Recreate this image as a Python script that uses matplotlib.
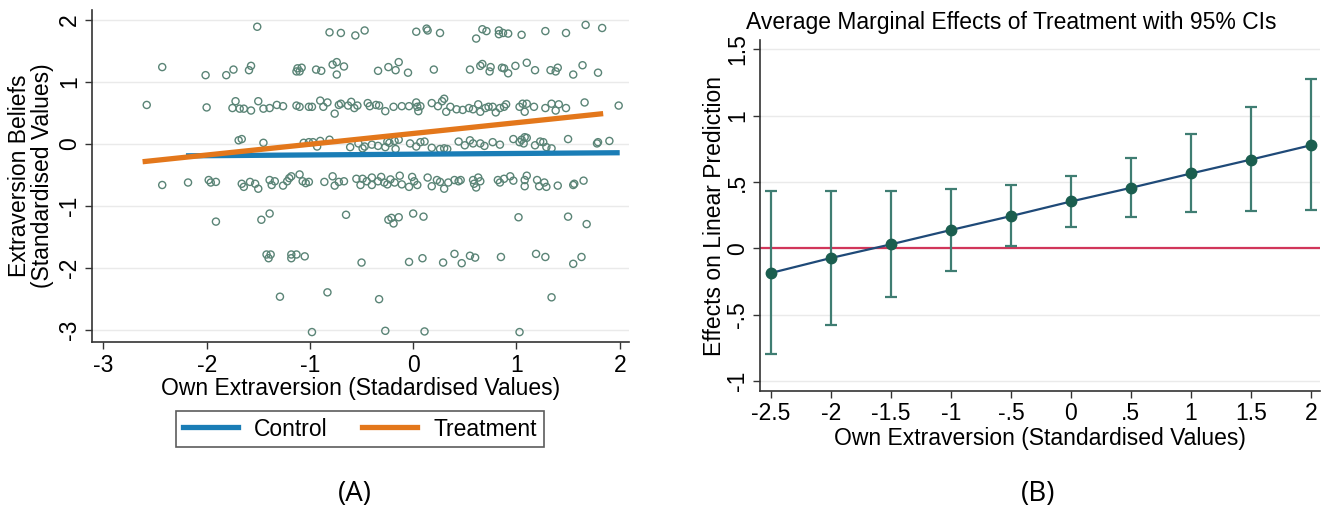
import matplotlib
matplotlib.use("Agg")
import matplotlib.pyplot as plt
from matplotlib.lines import Line2D

plt.rcParams['font.family'] = ['Liberation Sans', 'DejaVu Sans']

# ---------------- Panel A data ----------------
row_18_x = [-1.51, -0.81, -0.70, -0.56, -0.47, 0.03, 0.13, 0.14, 0.26, 0.61, 0.67, 0.71,
            0.83, 0.83, 0.87, 0.92, 1.05, 1.28, 1.48, 1.67, 1.83]
row_18_y = [1.89, 1.80, 1.79, 1.75, 1.83, 1.81, 1.86, 1.83, 1.79, 1.70, 1.85, 1.82,
            1.83, 1.77, 1.79, 1.78, 1.76, 1.82, 1.79, 1.92, 1.87]
row_12_x = [-2.43, -2.01, -1.81, -1.74, -1.59, -1.57, -1.13, -1.12, -1.10, -1.08, -0.94, -0.89,
            -0.78, -0.74, -0.74, -0.67, -0.34, -0.24, -0.17, -0.14, -0.05, 0.20, 0.55, 0.65,
            0.67, 0.74, 0.75, 0.86, 0.88, 0.92, 0.99, 1.10, 1.18, 1.33, 1.38, 1.40, 1.55,
            1.64, 1.79]
row_12_y = [1.24, 1.11, 1.11, 1.20, 1.19, 1.26, 1.17, 1.22, 1.17, 1.23, 1.20, 1.18,
            1.28, 1.32, 1.12, 1.25, 1.18, 1.24, 1.19, 1.32, 1.15, 1.20, 1.20, 1.26,
            1.29, 1.17, 1.24, 1.23, 1.22, 1.14, 1.26, 1.31, 1.19, 1.19, 1.17, 1.23, 1.12,
            1.27, 1.15]
row_06_x = [-2.58, -2.00, -1.75, -1.72, -1.68, -1.64, -1.57, -1.50, -1.45, -1.39, -1.32, -1.26,
            -1.13, -1.10, -1.01, -0.98, -0.90, -0.87, -0.83, -0.76, -0.72, -0.70,
            -0.63, -0.60, -0.57, -0.54, -0.44, -0.42, -0.36, -0.33, -0.27,
            -0.19, -0.11, -0.04, 0.03, 0.04, 0.05, 0.07,
            0.18, 0.24, 0.28, 0.30, 0.32, 0.36, 0.42,
            0.48, 0.54, 0.58, 0.63, 0.65, 0.70, 0.73, 0.77, 0.80, 0.84, 0.88, 0.90,
            1.03, 1.06, 1.10, 1.08, 1.17, 1.28, 1.34, 1.38, 1.41, 1.48, 1.66, 1.99]
row_06_y = [0.63, 0.59, 0.58, 0.69, 0.57, 0.57, 0.54, 0.69, 0.57, 0.58, 0.63, 0.61,
            0.62, 0.60, 0.60, 0.60, 0.70, 0.60, 0.67, 0.49, 0.63, 0.65,
            0.62, 0.68, 0.58, 0.62, 0.66, 0.61, 0.63, 0.62, 0.53,
            0.60, 0.61, 0.61, 0.67, 0.60, 0.53, 0.61,
            0.66, 0.61, 0.69, 0.73, 0.52, 0.60, 0.56,
            0.55, 0.58, 0.56, 0.64, 0.52, 0.58, 0.60, 0.60, 0.51, 0.58, 0.60, 0.64,
            0.60, 0.65, 0.65, 0.52, 0.60, 0.58, 0.65, 0.54, 0.64, 0.58, 0.67, 0.62]
row_00_x = [-1.69, -1.66, -1.45, -1.06, -1.01, -0.97, -0.90, -0.81, -0.93,
            -0.61, -0.53, -0.49, -0.47, -0.40, -0.34, -0.27, -0.25, -0.23, -0.18, -0.17, -0.14,
            -0.03, 0.03, 0.07, 0.11, 0.18, 0.26, 0.30, 0.33,
            0.44, 0.50, 0.55, 0.58, 0.65, 0.69, 0.77, 0.84,
            0.97, 1.03, 1.05, 1.08, 1.10, 1.07, 1.18, 1.23, 1.26, 1.29, 1.34,
            1.50, 1.78, 1.79, 1.90]
row_00_y = [0.06, 0.08, 0.02, 0.02, 0.03, 0.03, 0.05, 0.07, -0.04,
            -0.05, 0.01, -0.07, -0.04, -0.01, -0.03, -0.05, 0.04, 0.02, 0.05, -0.08, 0.07,
            0.01, -0.04, 0.03, 0.04, -0.06, -0.08, -0.07, -0.08,
            0.04, -0.02, 0.06, 0.01, 0.01, -0.03, 0.03, -0.01,
            0.08, 0.03, 0.07, 0.11, 0.10, 0.01, -0.02, 0.04, 0.03, -0.05, -0.07,
            0.08, 0.01, 0.03, 0.05]
row_m06_x = [-2.43, -2.18, -1.98, -1.96, -1.91,
             -1.66, -1.64, -1.58, -1.53, -1.50,
             -1.39, -1.37, -1.34, -1.26, -1.22, -1.20, -1.18,
             -1.10, -1.07, -1.04, -1.01, -0.86, -0.78, -0.76, -0.72, -0.67,
             -0.55, -0.51, -0.49, -0.45, -0.40, -0.40, -0.34, -0.31, -0.28, -0.25, -0.22, -0.18,
             -0.13, -0.11, -0.04, -0.01, 0.01, 0.04,
             0.14, 0.18, 0.23, 0.26, 0.30, 0.34, 0.40, 0.44, 0.46,
             0.58, 0.59, 0.61, 0.63, 0.65, 0.82, 0.84, 0.88, 0.94, 0.97,
             1.08, 1.10, 1.08, 1.20, 1.22, 1.27, 1.29, 1.40, 1.55, 1.56, 1.65]
row_m06_y = [-0.66, -0.62, -0.58, -0.62, -0.61,
             -0.64, -0.69, -0.61, -0.64, -0.72,
             -0.58, -0.66, -0.60, -0.67, -0.60, -0.55, -0.52,
             -0.49, -0.60, -0.63, -0.61, -0.61, -0.52, -0.67, -0.61, -0.60,
             -0.56, -0.66, -0.56, -0.60, -0.54, -0.66, -0.60, -0.53, -0.62, -0.65, -0.57, -0.62,
             -0.51, -0.65, -0.69, -0.53, -0.60, -0.66,
             -0.54, -0.68, -0.58, -0.61, -0.72, -0.62, -0.58, -0.60, -0.58,
             -0.58, -0.64, -0.70, -0.54, -0.60, -0.58, -0.62, -0.56, -0.52, -0.59,
             -0.58, -0.51, -0.68, -0.58, -0.68, -0.62, -0.69, -0.67, -0.66, -0.64, -0.59]
row_m12_x = [-1.91, -1.47, -1.39, -0.65, -0.24, -0.21, -0.19, -0.14, 0.00, 0.10, 1.02, 1.50, 1.68]
row_m12_y = [-1.25, -1.22, -1.12, -1.14, -1.22, -1.19, -1.28, -1.18, -1.12, -1.17, -1.18, -1.17, -1.29]
row_m18_x = [-1.42, -1.40, -1.38, -1.18, -1.18, -1.13, -1.05, -0.50, -0.04, 0.09, 0.29, 0.40,
             0.47, 0.55, 0.60, 0.85, 1.19, 1.28, 1.55, 1.63]
row_m18_y = [-1.78, -1.84, -1.78, -1.78, -1.84, -1.78, -1.81, -1.91, -1.90, -1.84, -1.91, -1.77,
             -1.92, -1.80, -1.83, -1.82, -1.77, -1.82, -1.93, -1.82]
row_m24_x = [-1.29, -0.83, -0.33, 1.34]
row_m24_y = [-2.46, -2.39, -2.50, -2.47]
row_m30_x = [-0.98, -0.27, 0.11, 1.03]
row_m30_y = [-3.03, -3.01, -3.02, -3.03]

own_extraversion = (row_18_x + row_12_x + row_06_x + row_00_x + row_m06_x
                    + row_m12_x + row_m18_x + row_m24_x + row_m30_x)
extraversion_beliefs = (row_18_y + row_12_y + row_06_y + row_00_y + row_m06_y
                        + row_m12_y + row_m18_y + row_m24_y + row_m30_y)

control_fit_x = [-2.2, 2.0]
control_fit_y = [-0.19, -0.14]
treatment_fit_x = [-2.62, 1.84]
treatment_fit_y = [-0.285, 0.49]

# ---------------- Panel B data ----------------
me_x = [-2.5, -2.0, -1.5, -1.0, -0.5, 0.0, 0.5, 1.0, 1.5, 2.0]
me_y = [-0.186, -0.073, 0.030, 0.138, 0.243, 0.353, 0.456, 0.564, 0.669, 0.777]
ci_hi = [0.431, 0.429, 0.431, 0.444, 0.474, 0.544, 0.682, 0.862, 1.063, 1.273]
ci_lo = [-0.797, -0.579, -0.368, -0.168, 0.015, 0.158, 0.236, 0.271, 0.281, 0.286]

xticks_a = [-3, -2, -1, 0, 1, 2]
yticks_a = [-3, -2, -1, 0, 1, 2]
xticks_b = [-2.5, -2, -1.5, -1, -0.5, 0, 0.5, 1, 1.5, 2]
xticklabels_b = ['-2.5', '-2', '-1.5', '-1', '-.5', '0', '.5', '1', '1.5', '2']
yticks_b = [-1, -0.5, 0, 0.5, 1, 1.5]
yticklabels_b = ['-1', '-.5', '0', '.5', '1', '1.5']

W, H = 1324, 512
fig = plt.figure(figsize=(W / 100, H / 100), dpi=100)
fig.patch.set_facecolor('white')

def frac(l, t, r, b):
    return [l / W, 1 - b / H, (r - l) / W, (b - t) / H]

spine_col = '#333333'
grid_col = '#eaeaea'
fs = 16.5

# ---------------- Panel A ----------------
axA = fig.add_axes(frac(92, 10, 629, 342))
axA.scatter(own_extraversion, extraversion_beliefs, s=26, facecolors='none',
            edgecolors='#5a8476', linewidths=1.0, zorder=2)
axA.plot(control_fit_x, control_fit_y, color='#1a7db6', lw=3.8, solid_capstyle='butt', zorder=3)
axA.plot(treatment_fit_x, treatment_fit_y, color='#e3771b', lw=3.8, solid_capstyle='butt', zorder=4)
axA.set_xlim(-3.11, 2.09)
axA.set_ylim(-3.19, 2.16)
axA.set_xticks(xticks_a)
axA.set_yticks(yticks_a)
axA.set_xticklabels([str(v) for v in xticks_a], fontsize=fs)
axA.set_yticklabels([str(v) for v in yticks_a], fontsize=fs, rotation=90, va='center')
axA.grid(axis='y', color=grid_col, lw=1.0, zorder=0)
axA.set_axisbelow(True)
for s in ['top', 'right']:
    axA.spines[s].set_visible(False)
for s in ['left', 'bottom']:
    axA.spines[s].set_color(spine_col)
    axA.spines[s].set_linewidth(1.2)
axA.tick_params(axis='x', direction='out', length=5, width=1.0, color=spine_col, pad=4)
axA.tick_params(axis='y', direction='out', length=5, width=1.0, color=spine_col, pad=3)
axA.set_xlabel('Own Extraversion (Stadardised Values)', fontsize=fs, labelpad=0)
axA.set_ylabel('Extraversion Beliefs\n(Standardised Values)', fontsize=fs, labelpad=2.5,
               linespacing=1.0)

handles = [Line2D([0], [0], color='#1a7db6', lw=3.8),
           Line2D([0], [0], color='#e3771b', lw=3.8)]
leg = axA.legend(handles, ['Control', 'Treatment'], loc='center',
                 bbox_to_anchor=((360 - 92) / 537, -(429 - 342) / 332), ncol=2,
                 fontsize=fs, frameon=True, fancybox=False, handlelength=2.4,
                 columnspacing=1.5, handletextpad=0.7, borderpad=0.3)
leg.get_frame().set_edgecolor('#333333')
leg.get_frame().set_linewidth(1.2)

# ---------------- Panel B ----------------
axB = fig.add_axes(frac(760, 40, 1320, 391))
axB.axhline(0, color='#d1365a', lw=1.6, zorder=2)
yerr = [[m - lo for m, lo in zip(me_y, ci_lo)], [hi - m for m, hi in zip(me_y, ci_hi)]]
axB.errorbar(me_x, me_y, yerr=yerr, fmt='none', ecolor='#3f7d72', elinewidth=1.6,
             capsize=4.5, capthick=1.6, zorder=3)
axB.plot(me_x, me_y, color='#1f4a78', lw=1.6, zorder=4)
axB.plot(me_x, me_y, 'o', color='#1b5e4f', ms=7.5, zorder=5)
axB.set_xlim(-2.59, 2.075)
axB.set_ylim(-1.075, 1.57)
axB.set_xticks(xticks_b)
axB.set_xticklabels(xticklabels_b, fontsize=fs)
axB.set_yticks(yticks_b)
axB.set_yticklabels(yticklabels_b, fontsize=fs, rotation=90, va='center')
axB.grid(axis='y', color=grid_col, lw=1.0, zorder=0)
axB.set_axisbelow(True)
for s in ['top', 'right']:
    axB.spines[s].set_visible(False)
for s in ['left', 'bottom']:
    axB.spines[s].set_color(spine_col)
    axB.spines[s].set_linewidth(1.2)
axB.tick_params(direction='out', length=5, width=1.0, color=spine_col, pad=3)
axB.set_xlabel('Own Extraversion (Standardised Values)', fontsize=fs, labelpad=1)
axB.set_ylabel('Effects on Linear Prediction', fontsize=fs, labelpad=0)
fig.text(1011 / W, 1 - 22 / H, 'Average Marginal Effects of Treatment with 95% CIs',
         ha='center', va='center', fontsize=fs)

# panel letters
fig.text(355 / W, 1 - 494 / H, '(A)', ha='center', va='center', fontsize=20,
         family=['Open Sans', 'DejaVu Sans'])
fig.text(1038 / W, 1 - 494 / H, '(B)', ha='center', va='center', fontsize=20,
         family=['Open Sans', 'DejaVu Sans'])

fig.savefig('out.png', dpi=100, facecolor='white')
